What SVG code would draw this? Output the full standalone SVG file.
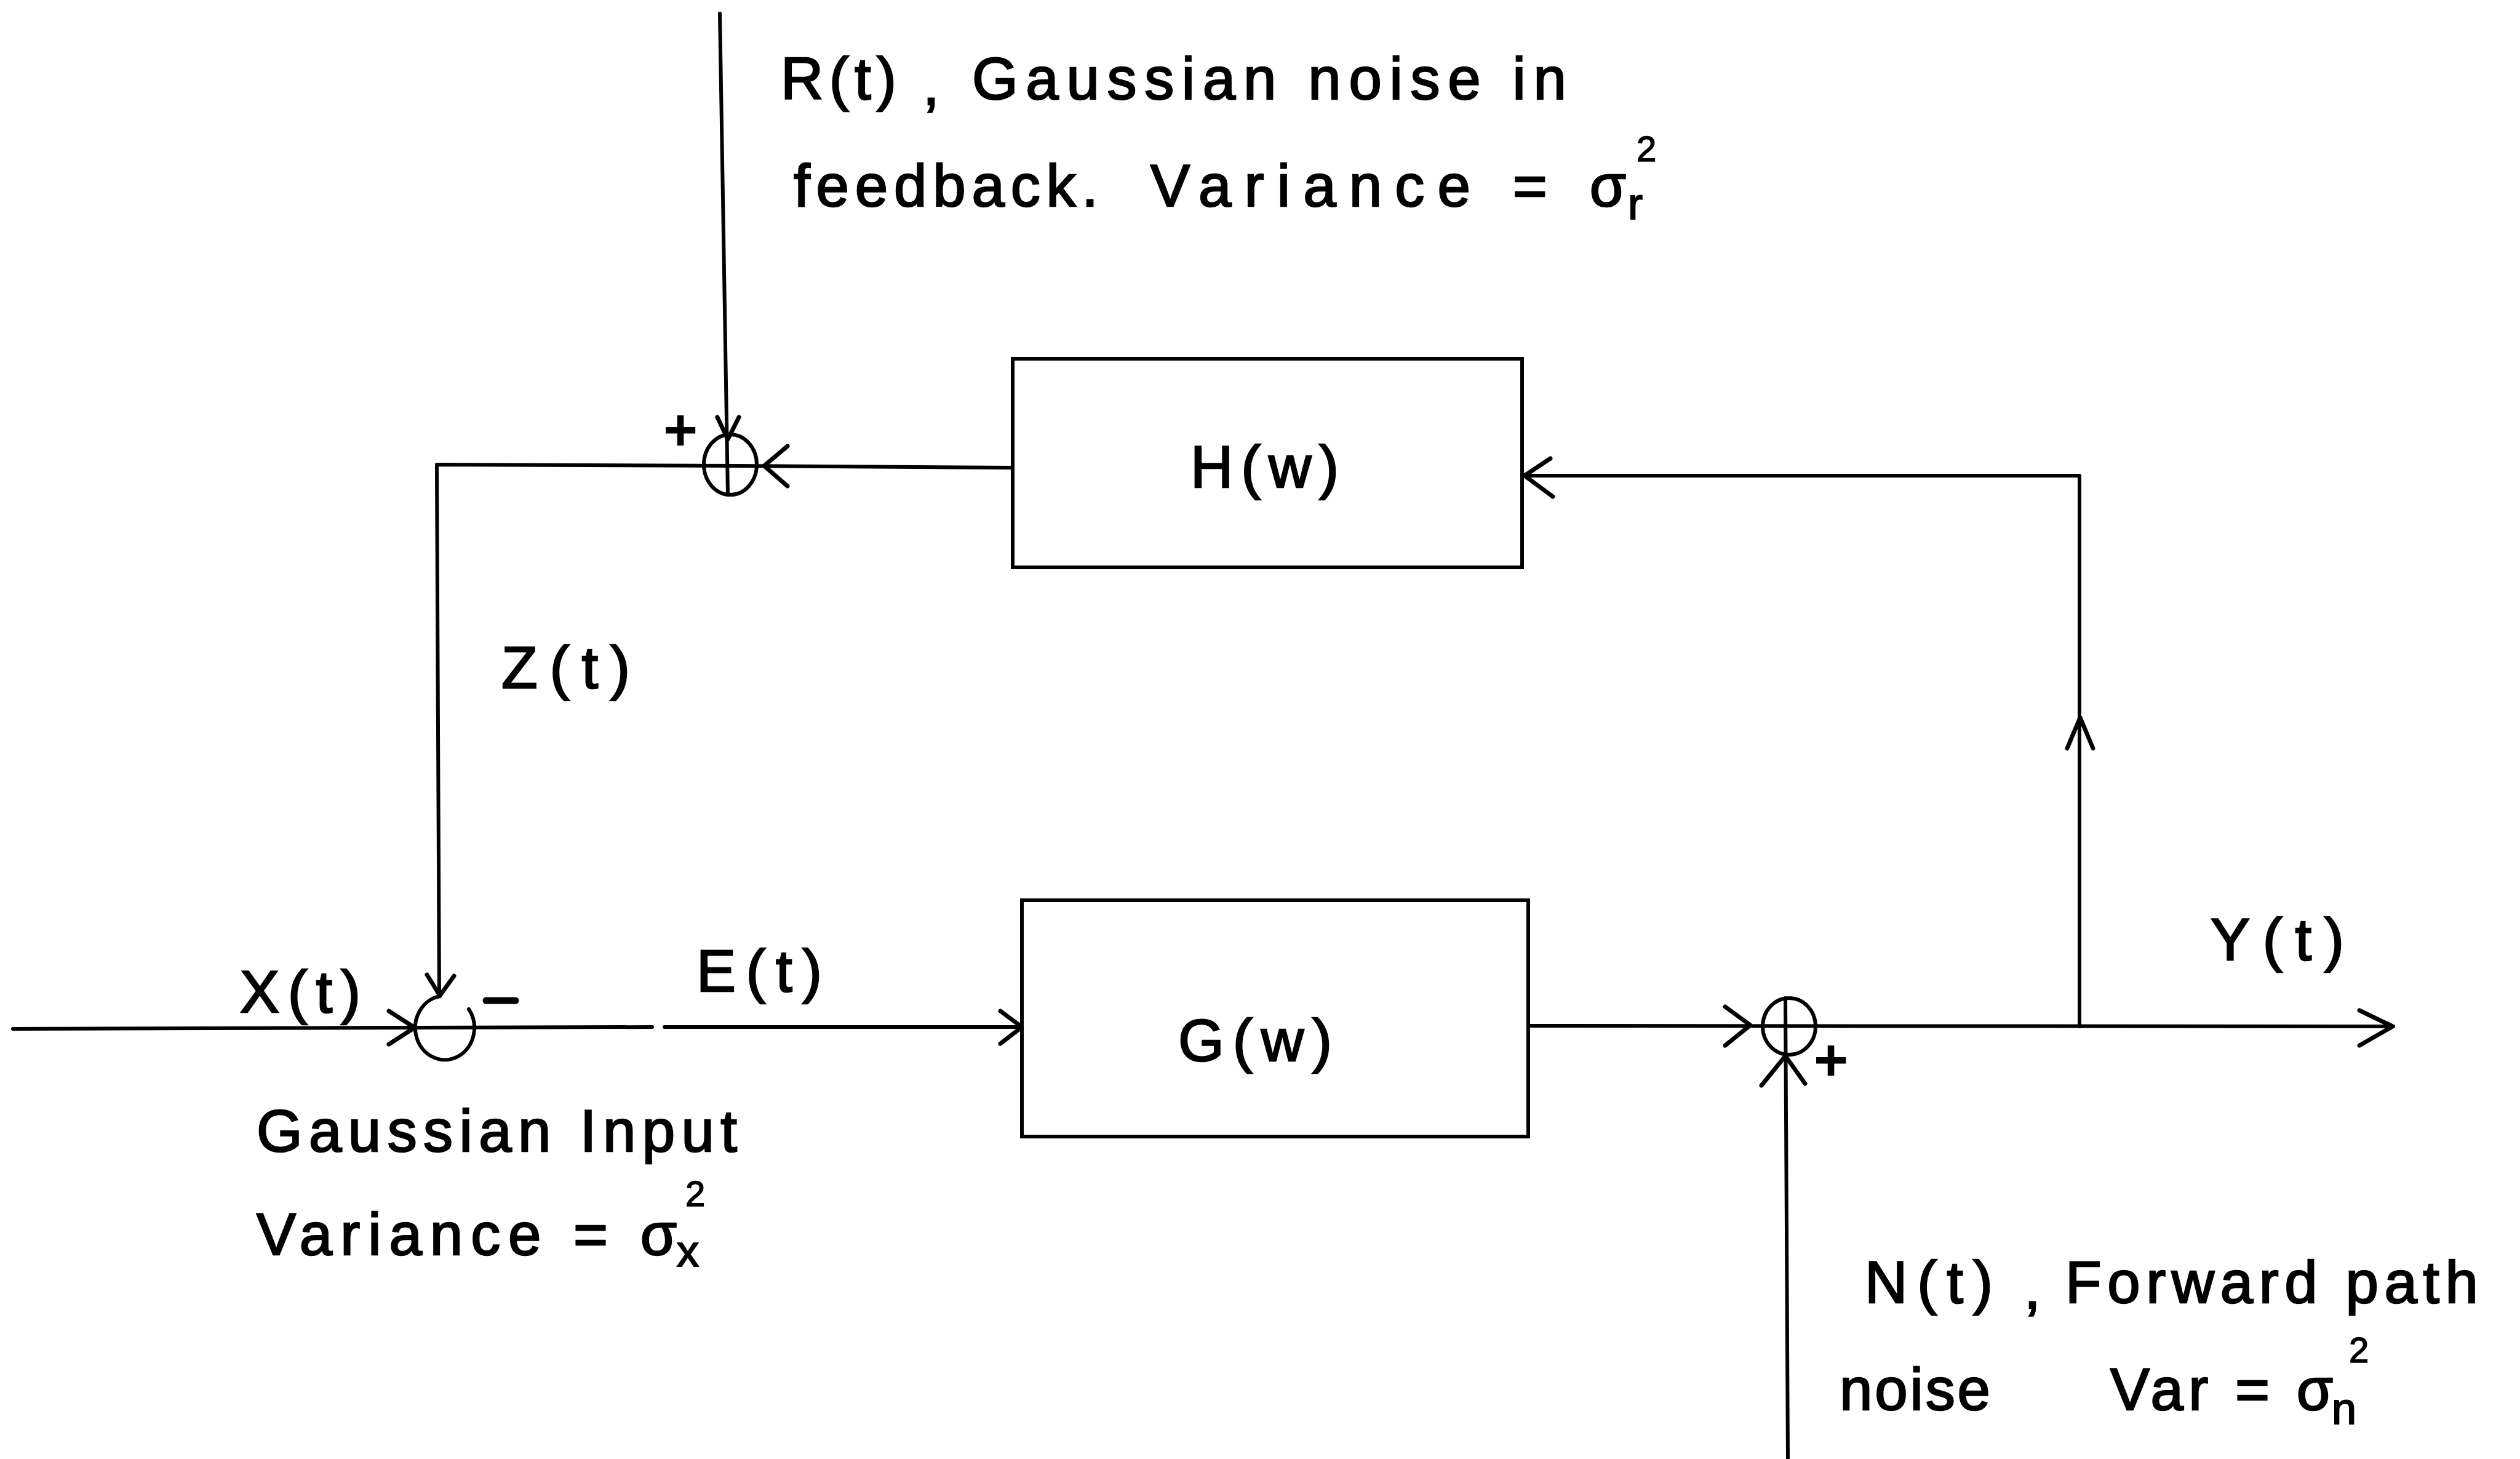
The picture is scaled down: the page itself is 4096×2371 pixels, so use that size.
<svg xmlns="http://www.w3.org/2000/svg" width="4096" height="2371" viewBox="0 0 4096 2371">
<style>
.ln{stroke:#000;stroke-width:6;fill:none;stroke-linecap:round;stroke-linejoin:round}
.ar{stroke:#000;stroke-width:7;fill:none;stroke-linecap:round;stroke-linejoin:round}
.bx{stroke:#000;stroke-width:6;fill:#fff}
.t{font-family:"Liberation Sans",Arial,sans-serif;font-size:96px;fill:#000;stroke:#000;stroke-width:2.5}
.s{font-family:"Liberation Sans",Arial,sans-serif;font-size:58px;fill:#000;stroke:#000;stroke-width:1.5}
.b{font-family:"Liberation Sans",Arial,sans-serif;font-size:72px;fill:#000;stroke:#000;stroke-width:2}
.pm{font-family:"Liberation Sans",Arial,sans-serif;font-size:96px;font-weight:bold;fill:#000}
</style>
<rect width="4096" height="2371" fill="#fff"/>
<g id="connectors">
  <!-- R(t) input line into upper summer -->
  <line class="ln" x1="1170" y1="22" x2="1183" y2="802"/>
  <polyline class="ar" points="1166,678 1183,714 1201,678"/>
  <!-- H output into upper summer, then Z(t) path -->
  <polyline class="ln" points="1646,760 1190,757 710,755 714,1618"/>
  <polyline class="ar" points="1280,725 1242,757 1280,790"/>
  <polyline class="ar" points="694,1584 715,1618 738,1586"/>
  <!-- X(t) input line -->
  <line class="ln" x1="21" y1="1672" x2="1060" y2="1669"/>
  <line class="ln" x1="1080" y1="1669" x2="1661" y2="1669"/>
  <polyline class="ar" points="632,1643 674,1670 632,1697"/>
  <polyline class="ar" points="1626,1643 1661,1669 1626,1696"/>
  <!-- G output to right summer -->
  <line class="ln" x1="2484" y1="1667" x2="3890" y2="1668"/>
  <polyline class="ar" points="2804,1636 2845,1666 2804,1699"/>
  <polyline class="ar" points="3835,1642 3889,1668 3835,1699"/>
  <!-- N(t) input -->
  <line class="ln" x1="2906" y1="2371" x2="2902" y2="1622"/>
  <polyline class="ar" points="2863,1764 2902,1716 2934,1761"/>
  <!-- Y(t) feedback to H -->
  <polyline class="ln" points="3380,1668 3380,773 2476,773"/>
  <polyline class="ar" points="3360,1216 3381,1166 3402,1216"/>
  <polyline class="ar" points="2520,745 2478,773 2524,807"/>
</g>
<g id="sum-upper">
  <ellipse class="ln" cx="1187" cy="755" rx="43" ry="49"/>
  <text class="pm" x="1078" y="732">+</text>
</g>
<g id="sum-lower">
  <path class="ln" d="M 715 1619 A 48 52 0 1 0 762 1640"/>
  <line class="ln" x1="790" y1="1626" x2="838" y2="1626" style="stroke-width:11"/>
</g>
<g id="sum-right">
  <ellipse class="ln" cx="2908" cy="1668" rx="43" ry="46"/>
  <text class="pm" x="2948" y="1756">+</text>
</g>
<g id="box-H">
  <rect class="bx" x="1646" y="583" width="828" height="339"/>
  <text class="t" x="1935" y="792" textLength="241" lengthAdjust="spacing">H(w)</text>
</g>
<g id="box-G">
  <rect class="bx" x="1661" y="1463" width="823" height="384"/>
  <text class="t" x="1915" y="1724" textLength="250" lengthAdjust="spacing">G(w)</text>
</g>
<g id="labels">
  <text class="t" x="1269" y="161" textLength="188" lengthAdjust="spacing">R(t)</text>
  <text class="t" x="1500" y="170">,</text>
  <text class="t" x="1580" y="161" textLength="966" lengthAdjust="spacing">Gaussian noise in</text>
  <text class="t" x="1290" y="335" textLength="495" lengthAdjust="spacing">feedback.</text>
  <text class="t" x="1870" y="335" textLength="773" lengthAdjust="spacing">Variance = σ</text>
  <text class="s" x="2660" y="262">2</text>
  <text class="b" x="2646" y="356">r</text>
  <text class="t" x="815" y="1118" textLength="209" lengthAdjust="spacing">Z(t)</text>
  <text class="t" x="390" y="1645" textLength="196" lengthAdjust="spacing">X(t)</text>
  <text class="t" x="1132" y="1611" textLength="204" lengthAdjust="spacing">E(t)</text>
  <text class="t" x="3593" y="1560" textLength="217" lengthAdjust="spacing">Y(t)</text>
  <text class="t" x="417" y="1871" textLength="781" lengthAdjust="spacing">Gaussian Input</text>
  <text class="t" x="417" y="2039" textLength="683" lengthAdjust="spacing">Variance = σ</text>
  <text class="s" x="1114" y="1960">2</text>
  <text class="b" x="1100" y="2058">x</text>
  <text class="t" x="3031" y="2117" textLength="208" lengthAdjust="spacing">N(t)</text>
  <text class="t" x="3290" y="2126">,</text>
  <text class="t" x="3357" y="2117" textLength="671" lengthAdjust="spacing">Forward path</text>
  <text class="t" x="2990" y="2291" textLength="245" lengthAdjust="spacing">noise</text>
  <text class="t" x="3430" y="2291" textLength="362" lengthAdjust="spacing">Var = σ</text>
  <text class="s" x="3818" y="2214">2</text>
  <text class="b" x="3790" y="2314">n</text>
</g>
</svg>
